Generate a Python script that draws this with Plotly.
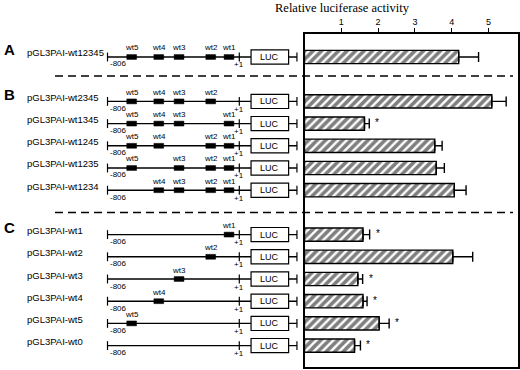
import plotly.graph_objects as go

# ---------------- data ----------------
constructs = ["pGL3PAI-wt12345",
              "pGL3PAI-wt2345", "pGL3PAI-wt1345", "pGL3PAI-wt1245", "pGL3PAI-wt1235", "pGL3PAI-wt1234",
              "pGL3PAI-wt1", "pGL3PAI-wt2", "pGL3PAI-wt3", "pGL3PAI-wt4", "pGL3PAI-wt5", "pGL3PAI-wt0"]
row_index = [0, 2, 3, 4, 5, 6, 8, 9, 10, 11, 12, 13]
panel_letters = ["A", "B", "C"]
panel_rows = [0, 2, 8]
activity = [4.19, 5.09, 1.63, 3.54, 3.58, 4.07, 1.59, 4.03, 1.45, 1.59, 2.03, 1.36]
activity_err = [0.54, 0.39, 0.13, 0.20, 0.22, 0.32, 0.18, 0.54, 0.13, 0.11, 0.27, 0.16]
significant = [False, False, True, False, False, False, True, False, True, True, True, True]
elements_present = [["wt5", "wt4", "wt3", "wt2", "wt1"],
                    ["wt5", "wt4", "wt3", "wt2"],
                    ["wt5", "wt4", "wt3", "wt1"],
                    ["wt5", "wt4", "wt2", "wt1"],
                    ["wt5", "wt3", "wt2", "wt1"],
                    ["wt4", "wt3", "wt2", "wt1"],
                    ["wt1"], ["wt2"], ["wt3"], ["wt4"], ["wt5"], []]
element_names = ["wt5", "wt4", "wt3", "wt2", "wt1"]
element_pos_bp = [-658, -492, -368, -174, -62]
promoter_start_bp = -806
promoter_end_bp = 1
luc_start_bp = 73
luc_end_bp = 303
vector_end_bp = 354
tick_vals = [1, 2, 3, 4, 5]
x_title = "Relative luciferase activity"

# ---------------- figure ----------------
W, H = 520, 370
FONT = "Liberation Sans, Arial, Helvetica, sans-serif"
fig = go.Figure()

# bars
fig.add_trace(go.Bar(
    x=activity, y=row_index, orientation="h", width=0.6,
    marker=dict(color="white", line=dict(color="black", width=1.4),
                pattern=dict(shape="/", fgcolor="black", bgcolor="white", size=6, solidity=0.6)),
    error_x=dict(type="data", array=activity_err, arrayminus=[0] * len(activity),
                 symmetric=False, color="black", thickness=1.4, width=5),
    xaxis="x", yaxis="y", showlegend=False, hoverinfo="skip"))

# invisible trace to activate diagram axis
fig.add_trace(go.Scatter(x=[promoter_start_bp, vector_end_bp], y=[0, 0], mode="markers",
                         marker=dict(opacity=0), xaxis="x2", yaxis="y",
                         showlegend=False, hoverinfo="skip"))

annotations = []
shapes = []

# stars
for v, e, r, s in zip(activity, activity_err, row_index, significant):
    if s:
        annotations.append(dict(x=v + e, y=r, xref="x", yref="y", text="*", showarrow=False,
                                xanchor="left", xshift=4, yshift=1,
                                font=dict(family=FONT, size=10, color="black")))

# construct diagrams
for name, r, present in zip(constructs, row_index, elements_present):
    ln = dict(color="black", width=1.4)
    shapes.append(dict(type="line", xref="x2", yref="y", x0=promoter_start_bp, x1=vector_end_bp,
                       y0=r, y1=r, line=ln, layer="below"))
    for xb in (promoter_start_bp, promoter_end_bp, vector_end_bp):
        shapes.append(dict(type="line", xref="x2", yref="y", x0=xb, x1=xb,
                           y0=r - 0.2, y1=r + 0.2, line=dict(color="black", width=1.2)))
    shapes.append(dict(type="rect", xref="x2", yref="y", x0=luc_start_bp, x1=luc_end_bp,
                       y0=r - 0.32, y1=r + 0.32, fillcolor="white",
                       line=dict(color="black", width=1.2)))
    annotations.append(dict(x=(luc_start_bp + luc_end_bp) / 2, y=r, xref="x2", yref="y",
                            text="LUC", showarrow=False,
                            font=dict(family=FONT, size=9, color="black")))
    for en, ep in zip(element_names, element_pos_bp):
        if en in present:
            shapes.append(dict(type="rect", xref="x2", yref="y", x0=ep - 30, x1=ep + 30,
                               y0=r - 0.11, y1=r + 0.11, fillcolor="black",
                               line=dict(color="black", width=0.5)))
            annotations.append(dict(x=ep, y=r, xref="x2", yref="y", text=en, showarrow=False,
                                    yshift=9, font=dict(family=FONT, size=8, color="black")))
    annotations.append(dict(x=promoter_start_bp, y=r, xref="x2", yref="y", text="-806",
                            showarrow=False, xanchor="left", xshift=0, yshift=-7,
                            font=dict(family=FONT, size=8, color="black")))
    annotations.append(dict(x=promoter_end_bp, y=r, xref="x2", yref="y", text="+1",
                            showarrow=False, yshift=-8,
                            font=dict(family=FONT, size=8, color="black")))
    annotations.append(dict(x=25 / W, y=r, xref="paper", yref="y", text=name, showarrow=False,
                            xanchor="left", yshift=4,
                            font=dict(family=FONT, size=9.5, color="black")))

for letter, r in zip(panel_letters, panel_rows):
    annotations.append(dict(x=2 / W, y=r, xref="paper", yref="y", text="<b>%s</b>" % letter,
                            showarrow=False, xanchor="left", yshift=7,
                            font=dict(family=FONT, size=15, color="black")))

# dashed separators
for ysep in (0.86, 7.0):
    shapes.append(dict(type="line", xref="paper", yref="y", x0=55 / W, x1=513 / W,
                       y0=ysep, y1=ysep, line=dict(color="black", width=1.5, dash="8px,5px")))

# title
annotations.append(dict(x=412 / W, y=1 - 8 / H, xref="paper", yref="paper", text=x_title,
                        showarrow=False, yanchor="middle",
                        font=dict(family="Liberation Serif, Times New Roman, serif", size=12.5,
                                  color="black")))

row_px0, row_step = 57.0, 22.2
box_top, box_bot = 34.0, 367.0
box_left, box_right = 304.5, 518.0
px_per_unit = 36.8
diag_px0, diag_scale = 107.5, 0.1633

fig.update_layout(
    width=W, height=H, margin=dict(l=0, r=0, t=0, b=0),
    paper_bgcolor="white", plot_bgcolor="rgba(0,0,0,0)",
    xaxis=dict(domain=[box_left / W, box_right / W],
               range=[0, (box_right - box_left) / px_per_unit],
               side="top", anchor="y", showline=True, mirror=True, linecolor="black", linewidth=1.5,
               ticks="outside", ticklen=4, tickwidth=1.2, tickcolor="black",
               tickvals=tick_vals, showgrid=False, zeroline=False,
               tickfont=dict(family=FONT, size=9, color="black")),
    yaxis=dict(domain=[(H - box_bot) / H, (H - box_top) / H],
               range=[(box_bot - row_px0) / row_step, (box_top - row_px0) / row_step],
               showline=True, mirror=True, linecolor="black", linewidth=1.5,
               showticklabels=False, ticks="", showgrid=False, zeroline=False),
    xaxis2=dict(domain=[0, 300 / W], anchor="y",
                range=[promoter_start_bp - diag_px0 / diag_scale,
                       promoter_end_bp + (300 - 239.3) / diag_scale],
                visible=False, showgrid=False, zeroline=False),
    shapes=shapes, annotations=annotations,
)

fig.write_html("out.html", config={"displayModeBar": False},
               post_script="document.body.style.margin='0px';document.body.style.overflow='hidden';")
